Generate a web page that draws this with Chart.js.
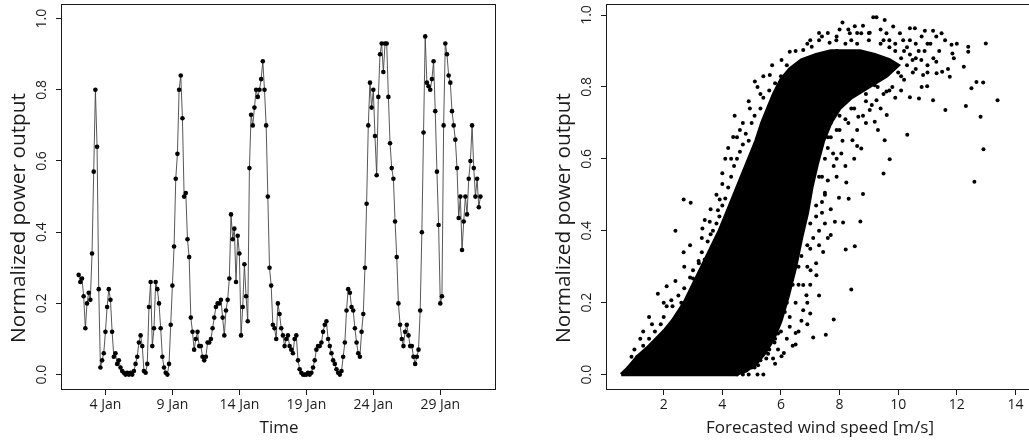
<!DOCTYPE html>
<html>
<head>
<meta charset="utf-8">
<script src="https://cdn.jsdelivr.net/npm/chart.js@4.4.1/dist/chart.umd.min.js"></script>
<style>
  html, body { margin: 0; padding: 0; background: #fff; overflow: hidden; }
  body { width: 1029px; height: 442px; position: relative; }
  canvas { position: absolute; top: 0; }
  #left { left: 0; }
  #right { left: 515px; }
</style>
</head>
<body>
<canvas id="left" width="510" height="442"></canvas>
<canvas id="right" width="540" height="442"></canvas>
<script>
// left panel: power output, one reading every 3 hours from 2 Jan 00:00
const startDay = 2;
const stepHours = 3;
const power = [
  0.28, 0.26, 0.27, 0.22, 0.13, 0.20, 0.23, 0.21, 0.34, 0.57,
  0.80, 0.64, 0.24, 0.02, 0.04, 0.06, 0.12, 0.19, 0.24, 0.21,
  0.12, 0.05, 0.06, 0.03, 0.04, 0.02, 0.01, 0.005, 0.0, 0.005,
  0.0, 0.005, 0.0, 0.01, 0.03, 0.05, 0.09, 0.11, 0.08, 0.01,
  0.005, 0.03, 0.19, 0.26, 0.08, 0.13, 0.26, 0.24, 0.20, 0.13,
  0.05, 0.02, 0.005, 0.0, 0.03, 0.14, 0.25, 0.36, 0.55, 0.62,
  0.80, 0.84, 0.72, 0.50, 0.51, 0.38, 0.33, 0.16, 0.12, 0.07,
  0.10, 0.12, 0.08, 0.08, 0.05, 0.04, 0.05, 0.09, 0.09, 0.10,
  0.13, 0.16, 0.19, 0.20, 0.20, 0.21, 0.16, 0.11, 0.18, 0.21,
  0.27, 0.45, 0.38, 0.41, 0.26, 0.39, 0.34, 0.11, 0.19, 0.31,
  0.22, 0.15, 0.58, 0.73, 0.70, 0.75, 0.80, 0.78, 0.80, 0.83,
  0.88, 0.80, 0.70, 0.50, 0.30, 0.25, 0.14, 0.13, 0.10, 0.20,
  0.17, 0.13, 0.11, 0.08, 0.10, 0.11, 0.08, 0.07, 0.06, 0.10,
  0.11, 0.04, 0.015, 0.005, 0.0, 0.0, 0.0, 0.005, 0.0, 0.005,
  0.02, 0.04, 0.07, 0.08, 0.08, 0.09, 0.12, 0.14, 0.15, 0.10,
  0.08, 0.06, 0.04, 0.03, 0.015, 0.005, 0.0, 0.01, 0.05, 0.09,
  0.18, 0.24, 0.23, 0.19, 0.18, 0.13, 0.09, 0.06, 0.05, 0.12,
  0.17, 0.30, 0.48, 0.70, 0.82, 0.75, 0.80, 0.67, 0.56, 0.78,
  0.90, 0.93, 0.85, 0.93, 0.93, 0.78, 0.65, 0.58, 0.55, 0.43,
  0.33, 0.20, 0.14, 0.10, 0.08, 0.12, 0.14, 0.11, 0.08, 0.08,
  0.05, 0.03, 0.05, 0.07, 0.18, 0.40, 0.68, 0.95, 0.82, 0.81,
  0.80, 0.83, 0.88, 0.74, 0.57, 0.42, 0.20, 0.22, 0.70, 0.93,
  0.90, 0.84, 0.82, 0.74, 0.70, 0.66, 0.58, 0.44, 0.50, 0.35,
  0.43, 0.50, 0.45, 0.55, 0.60, 0.70, 0.58, 0.50, 0.55, 0.47,
  0.50
];
const dayTicks = [4, 9, 14, 19, 24, 29];
const powerTicks = [0, 0.2, 0.4, 0.6, 0.8, 1.0];

// right panel: outline of the solid core of the cloud, and the loose points around it
const coreWind = [0.55, 0.8, 1.1, 1.45, 1.75, 2.05, 2.3, 2.7, 3.0, 3.3, 3.6, 3.9, 4.15, 4.4, 4.65, 4.9, 5.15, 5.35, 5.55, 5.75,
                  6.0, 6.3, 6.7, 7.2, 7.7, 8.2, 8.7, 9.2, 9.7, 10.0,
                  9.6, 9.2, 8.8, 8.4, 8.0, 7.7, 7.45, 7.25, 7.05, 6.9, 6.7, 6.5, 6.25, 6.0, 5.75, 5.45, 5.15, 4.8, 4.45, 0.55];
const corePower = [0.0, 0.02, 0.05, 0.075, 0.1, 0.125, 0.15, 0.2, 0.25, 0.3, 0.35, 0.4, 0.45, 0.5, 0.55, 0.6, 0.65, 0.7, 0.74, 0.78,
                   0.82, 0.85, 0.875, 0.89, 0.9, 0.9, 0.9, 0.89, 0.875, 0.86,
                   0.83, 0.81, 0.79, 0.77, 0.74, 0.7, 0.65, 0.59, 0.52, 0.45, 0.38, 0.3, 0.22, 0.15, 0.1, 0.06, 0.03, 0.01, 0.0, 0.0];
const windSpeed = [
  0.8, 1.1, 1.3, 1.5, 1.7, 1.6, 1.9, 2.0, 2.1, 2.3, 2.5, 2.6, 2.7, 2.9, 3.0, 3.1, 3.2, 3.3, 3.4, 3.5,
  3.6, 3.7, 3.8, 3.9, 4.0, 4.1, 4.2, 4.3, 4.4, 4.5, 4.6, 4.7, 4.8, 4.9, 5.0, 5.1, 5.3, 5.4, 5.6, 5.8,
  6.0, 6.2,
  1.8, 2.1, 2.4, 2.68, 2.92, 2.68, 3.0, 3.19, 3.32, 3.57, 3.68, 3.85, 3.91, 4.0, 4.1, 4.37, 4.42, 4.6, 4.94, 5.11,
  5.3, 5.62, 2.26, 1.5, 1.2, 2.9, 3.4, 4.2,
  6.02, 6.3, 6.76, 7.05, 7.3, 7.66, 7.89, 8.1, 8.35, 8.52, 8.74, 9.03, 9.15, 9.26, 9.54, 9.6, 9.83, 10.06, 10.17, 10.4,
  10.57, 10.91, 11.19, 11.48, 11.82, 11.85, 11.76, 11.5, 11.31, 10.85, 10.79, 10.49, 12.39, 12.39, 12.24, 12.99, 12.5, 12.67, 12.9, 12.31,
  13.39, 12.81, 12.91, 12.6, 11.61, 11.19, 10.99, 10.71, 10.4, 10.31,
  9.9, 10.1, 10.3, 10.6, 10.0, 10.2, 9.7, 9.4, 9.0, 8.6, 8.2, 7.9, 10.7, 11.0, 11.2, 11.4, 11.6, 11.0, 10.5, 9.8,
  10.1, 10.8, 9.5, 9.9, 11.7, 11.9, 12.0, 11.3, 10.8,
  6.5, 6.9, 7.4, 7.6, 7.9, 8.3, 8.6, 8.8, 9.4, 9.5, 9.9, 10.2, 10.4, 10.6, 10.9, 11.1, 10.3, 10.6, 11.0, 11.3,
  9.9, 10.1, 9.3, 9.7, 8.9, 9.1, 8.5, 8.8, 8.2, 7.9, 8.1, 7.6, 7.8, 7.4, 7.5, 7.2, 7.3, 7.0, 6.9, 6.6,
  6.5, 6.3, 6.0, 5.8, 5.6, 5.3, 5.0, 7.0, 7.3, 8.0, 8.4, 9.0, 9.7, 10.4,
  9.71, 9.54, 9.5, 9.61, 9.31, 8.8, 8.71, 8.4, 8.31, 7.98, 8.12, 7.84, 7.7, 8.74, 8.6, 8.23, 7.5, 7.78, 8.06, 8.44,
  8.64, 9.03, 9.2, 9.26, 9.6, 9.2, 8.9, 8.3, 8.0, 7.7, 7.5, 7.3, 7.6, 7.9, 8.2, 8.7, 7.2, 7.0, 7.4, 6.9,
  7.1,
  7.21, 7.01, 7.44, 8.21, 8.52, 7.8, 7.53, 7.1, 6.5, 6.5, 6.02, 5.78, 6.76, 6.87, 6.76, 6.3, 6.13, 5.9, 6.6, 6.7,
  6.4, 6.2, 6.0, 5.7, 5.5, 5.2, 4.9, 4.7, 4.82, 5.22, 5.5, 5.56, 5.73, 5.05, 4.6, 4.5, 4.7, 4.9, 5.2, 5.4,
  5.9, 6.2, 6.9, 5.1,
  7.6, 7.9, 8.1, 8.4, 8.7, 9.0, 9.3, 7.7, 8.0, 8.4, 8.6, 8.9, 9.4, 7.6, 7.9, 8.2, 8.5, 7.6, 7.9, 7.4,
  7.7, 7.5, 7.3, 7.6, 7.2, 7.0, 7.3, 6.9, 6.7, 6.4, 6.1, 5.8, 6.6, 7.0,
  3.3, 3.6, 3.8, 4.0, 4.3, 4.5, 4.7, 4.9, 5.2, 5.4, 5.7, 2.4, 2.7, 2.0, 1.3, 1.0, 0.9
];
const windPower = [
  0.02, 0.05, 0.08, 0.1, 0.12, 0.14, 0.14, 0.16, 0.19, 0.19, 0.22, 0.2, 0.24, 0.27, 0.29, 0.26, 0.31, 0.34, 0.32, 0.37,
  0.39, 0.36, 0.42, 0.44, 0.47, 0.49, 0.52, 0.55, 0.58, 0.6, 0.62, 0.64, 0.67, 0.65, 0.7, 0.72, 0.74, 0.77, 0.79, 0.81,
  0.83, 0.86,
  0.225, 0.246, 0.4, 0.487, 0.478, 0.34, 0.267, 0.316, 0.406, 0.425, 0.4, 0.457, 0.487, 0.56, 0.6, 0.661, 0.72, 0.68, 0.74, 0.815,
  0.78, 0.833, 0.207, 0.16, 0.1, 0.36, 0.43, 0.63,
  0.875, 0.898, 0.903, 0.912, 0.93, 0.923, 0.93, 0.979, 0.949, 0.969, 0.949, 0.951, 0.994, 0.994, 0.986, 0.949, 0.968, 0.949, 0.93, 0.963,
  0.963, 0.956, 0.956, 0.949, 0.917, 0.893, 0.828, 0.842, 0.838, 0.833, 0.875, 0.875, 0.912, 0.898, 0.856, 0.921, 0.796, 0.814, 0.812, 0.747,
  0.763, 0.717, 0.627, 0.536, 0.736, 0.763, 0.802, 0.768, 0.771, 0.667,
  0.9, 0.88, 0.91, 0.92, 0.84, 0.82, 0.93, 0.92, 0.93, 0.92, 0.92, 0.9, 0.9, 0.92, 0.88, 0.9, 0.93, 0.86, 0.84, 0.8,
  0.79, 0.8, 0.78, 0.77, 0.85, 0.88, 0.92, 0.94, 0.94,
  0.9, 0.92, 0.94, 0.95, 0.94, 0.96, 0.95, 0.97, 0.96, 0.93, 0.92, 0.9, 0.93, 0.88, 0.9, 0.92, 0.86, 0.85, 0.84, 0.87,
  0.86, 0.83, 0.8, 0.79, 0.78, 0.75, 0.74, 0.72, 0.71, 0.68, 0.65, 0.63, 0.58, 0.55, 0.5, 0.44, 0.4, 0.35, 0.3, 0.25,
  0.2, 0.16, 0.12, 0.1, 0.07, 0.04, 0.02, 0.93, 0.95, 0.96, 0.93, 0.95, 0.91, 0.89,
  0.599, 0.652, 0.559, 0.722, 0.68, 0.502, 0.426, 0.237, 0.489, 0.492, 0.423, 0.425, 0.388, 0.629, 0.636, 0.534, 0.506, 0.615, 0.615, 0.652,
  0.717, 0.736, 0.703, 0.763, 0.787, 0.805, 0.76, 0.7, 0.68, 0.66, 0.6, 0.55, 0.72, 0.74, 0.76, 0.79, 0.47, 0.42, 0.45, 0.36,
  0.38,
  0.276, 0.29, 0.341, 0.348, 0.357, 0.153, 0.111, 0.103, 0.084, 0.116, 0.051, 0.089, 0.249, 0.221, 0.179, 0.133, 0.174, 0.114, 0.3, 0.33,
  0.25, 0.2, 0.16, 0.12, 0.08, 0.05, 0.03, 0.01, 0.012, 0.026, 0.045, 0.058, 0.045, 0.077, 0.04, 0.0, 0.0, 0.0, 0.0, 0.0,
  0.07, 0.1, 0.14, 0.02,
  0.78, 0.8, 0.82, 0.8, 0.83, 0.85, 0.86, 0.7, 0.72, 0.74, 0.68, 0.7, 0.74, 0.66, 0.6, 0.58, 0.6, 0.54, 0.55, 0.48,
  0.46, 0.42, 0.36, 0.38, 0.31, 0.25, 0.22, 0.2, 0.15, 0.08, 0.06, 0.03, 0.12, 0.17,
  0.38, 0.46, 0.5, 0.53, 0.6, 0.66, 0.7, 0.76, 0.8, 0.83, 0.86, 0.26, 0.3, 0.2, 0.12, 0.07, 0.05
];
const windTicks = [2, 4, 6, 8, 10, 12, 14];

const FONT = '"Open Sans", "DejaVu Sans", sans-serif';
const INK = '#1a1a1a';

// R-like box, rotated y labels and axis titles
function rFrame(xTitle, yTitle) {
  return {
    id: 'rFrame',
    afterDraw(chart) {
      const { ctx, chartArea: a, scales } = chart;
      ctx.save();
      ctx.strokeStyle = INK;
      ctx.lineWidth = 1;
      const l = Math.round(a.left) - 0.5, t = Math.round(a.top) + 0.5;
      const r = Math.round(a.right) - 0.5, b = Math.round(a.bottom) + 0.5;
      ctx.strokeRect(l, t, r - l, b - t);

      ctx.fillStyle = INK;
      ctx.textAlign = 'center';
      ctx.textBaseline = 'middle';
      ctx.font = '14px ' + FONT;
      powerTicks.forEach(v => {
        ctx.save();
        ctx.translate(a.left - 20, scales.y.getPixelForValue(v));
        ctx.rotate(-Math.PI / 2);
        ctx.fillText(v.toFixed(1), 0, 0);
        ctx.restore();
      });

      ctx.font = '20.8px ' + FONT;
      ctx.save();
      ctx.translate(a.left - 43, 218);
      ctx.rotate(-Math.PI / 2);
      ctx.fillText(yTitle, 0, 0);
      ctx.restore();
      ctx.font = '17px ' + FONT;
      ctx.fillText(xTitle, (a.left + a.right) / 2, 428);
      ctx.restore();
    }
  };
}

function axes(xMin, xMax, xTicks, xLabel, yMin, yMax, yWidth) {
  return {
    x: {
      type: 'linear', min: xMin, max: xMax,
      afterBuildTicks: s => { s.ticks = xTicks.map(v => ({ value: v })); },
      afterFit: s => { s.height = 442 - 389; },
      grid: { drawOnChartArea: false, drawTicks: true, tickLength: 6, color: INK },
      border: { display: false },
      ticks: { callback: xLabel, font: { family: FONT, size: 14 }, color: INK, padding: 2, maxRotation: 0, autoSkip: false }
    },
    y: {
      type: 'linear', min: yMin, max: yMax,
      afterBuildTicks: s => { s.ticks = powerTicks.map(v => ({ value: v })); },
      afterFit: s => { s.width = yWidth; },
      grid: { drawOnChartArea: false, drawTicks: true, tickLength: 6, color: INK },
      border: { display: false },
      ticks: { display: false }
    }
  };
}

const common = {
  responsive: false,
  animation: false,
  devicePixelRatio: 1,
  plugins: { legend: { display: false }, tooltip: { enabled: false } }
};

new Chart(document.getElementById('left'), {
  type: 'scatter',
  data: {
    datasets: [{
      data: power.map((v, k) => ({ x: startDay + k * stepHours / 24, y: v })),
      showLine: true,
      borderColor: '#444',
      borderWidth: 0.9,
      pointRadius: 2.3,
      pointBackgroundColor: '#000',
      pointBorderWidth: 0
    }]
  },
  options: Object.assign({}, common, {
    layout: { padding: { top: 4, right: 14, left: 0, bottom: 0 } },
    scales: axes(0.757, 33.16, dayTicks, v => v + ' Jan', -0.0405, 1.041, 62)
  }),
  plugins: [rFrame('Time', 'Normalized power output')]
});

new Chart(document.getElementById('right'), {
  type: 'scatter',
  data: {
    datasets: [
      {
        data: windSpeed.map((w, i) => ({ x: w, y: windPower[i] })),
        pointRadius: 2.0,
        pointBackgroundColor: '#000',
        pointBorderWidth: 0
      },
      {
        data: coreWind.map((w, i) => ({ x: w, y: corePower[i] })),
        showLine: true,
        fill: 'shape',
        tension: 0,
        borderColor: '#000',
        borderWidth: 3.5,
        backgroundColor: '#000',
        pointRadius: 0
      }
    ]
  },
  options: Object.assign({}, common, {
    layout: { padding: { top: 4, right: 22, left: 0, bottom: 0 } },
    scales: axes(0.065, 14.6, windTicks, v => String(v), -0.040, 1.0306, 92)
  }),
  plugins: [rFrame('Forecasted wind speed [m/s]', 'Normalized power output')]
});
</script>
</body>
</html>
